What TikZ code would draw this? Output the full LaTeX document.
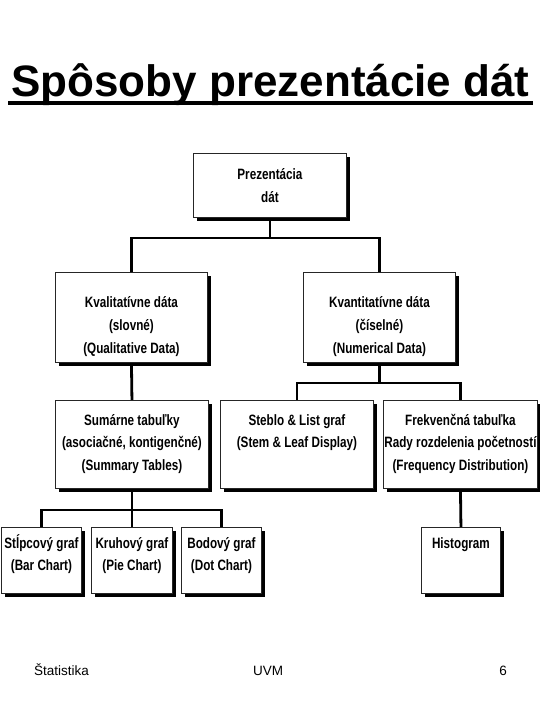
\documentclass[tikz,border=0pt]{standalone}
\usepackage{fontspec}
\setmainfont{Liberation Sans}
\newfontfamily\narfont[FakeStretch=0.78]{Liberation Sans}
\usetikzlibrary{shadows,backgrounds}
\newcommand\bxlines[1]{\begin{tabular}[t]{@{}c@{}}#1\end{tabular}}
\begin{document}
\begin{tikzpicture}[x=1pt,y=-1pt,
  bx/.style={draw=black!85, line width=0.9pt, fill=white, inner sep=0pt, anchor=north west,
    drop shadow={shadow xshift=3.4pt, shadow yshift=-3.4pt, fill=black, opacity=1}},
  tx/.style={anchor=base, inner sep=0pt, font=\narfont\bfseries\fontsize{15}{23}\selectfont},
  txb/.style={anchor=base, inner sep=0pt, font=\narfont\bfseries\fontsize{15}{22.5}\selectfont},
  txl/.style={anchor=base, inner sep=0pt, font=\narfont\bfseries\fontsize{15}{22}\selectfont},
  conn/.style={line width=2.8pt, black},
  foot/.style={anchor=base, inner sep=0pt, font=\fontsize{13.5}{16}\selectfont}]
\useasboundingbox (0,0) rectangle (540,720);

% title
\node[anchor=base, inner xsep=3pt, inner ysep=0pt, font=\bfseries\fontsize{44}{50}\selectfont] (title) at (270.5,96) {Spôsoby prezentácie dát};
\draw[line width=3.5pt] ([yshift=-7pt]title.base west) -- ([yshift=-7pt]title.base east);

% boxes
\node[bx, minimum width=153pt, minimum height=64pt] (root) at (193,153) {};
\node[bx, minimum width=152pt, minimum height=90pt] (kval) at (55,272) {};
\node[bx, minimum width=152pt, minimum height=90pt] (kvant) at (303,272) {};
\node[bx, minimum width=153pt, minimum height=88pt] (sum) at (55,400) {};
\node[bx, minimum width=153pt, minimum height=88pt] (steb) at (220,400) {};
\node[bx, minimum width=154pt, minimum height=88pt] (frek) at (383,400) {};
\node[bx, minimum width=80pt, minimum height=66pt] (stlp) at (1,527) {};
\node[bx, minimum width=81pt, minimum height=66pt] (kruh) at (91,527) {};
\node[bx, minimum width=80pt, minimum height=66pt] (bod) at (181,527) {};
\node[bx, minimum width=79pt, minimum height=66pt] (hist) at (421,527) {};

% texts
\node[tx] (rootT) at (root.north |- 0,179) {\bxlines{Prezentácia\\dát}};
\node[tx] (kvalT) at (kval.north |- 0,307) {\bxlines{Kvalitatívne dáta\\(slovné)\\(Qualitative Data)}};
\node[tx] (kvantT) at (kvant.north |- 0,307) {\bxlines{Kvantitatívne dáta\\(číselné)\\(Numerical Data)}};
\node[txb] (sumT) at (sum.north |- 0,425) {\bxlines{Sumárne tabuľky\\(asociačné, kontigenčné)\\(Summary Tables)}};
\node[txb] (stebT) at (steb.north |- 0,425) {\bxlines{Steblo \& List graf\\(Stem \& Leaf Display)}};
\node[txb] (frekT) at (frek.north |- 0,425) {\bxlines{Frekvenčná tabuľka\\Rady rozdelenia početností\\(Frequency Distribution)}};
\node[txl] (stlpT) at (stlp.north |- 0,548) {\bxlines{Stĺpcový graf\\(Bar Chart)}};
\node[txl] (kruhT) at (kruh.north |- 0,548) {\bxlines{Kruhový graf\\(Pie Chart)}};
\node[txl] (bodT) at (bod.north |- 0,548) {\bxlines{Bodový graf\\(Dot Chart)}};
\node[txl] (histT) at (hist.north |- 0,548) {\bxlines{Histogram}};

% connectors
\begin{scope}[on background layer]
\draw[conn] (root.south) -- ++(0,20) -| (kval.north);
\draw[conn] (root.south) -- ++(0,20) -| (kvant.north);
\draw[conn] (kval.south) -- (sum.north);
\draw[conn] (kvant.south) -- ++(0,20) -| (steb.north);
\draw[conn] (kvant.south) -- ++(0,20) -| (frek.north);
\draw[conn] (sum.south) -- ++(0,21) -| (stlp.north);
\draw[conn] (sum.south) -- (kruh.north);
\draw[conn] (sum.south) -- ++(0,21) -| (bod.north);
\draw[conn] (frek.south) -- (hist.north);
\end{scope}

% footer
\node[foot, anchor=base west] (f1) at (34,675) {Štatistika};
\node[foot] (f2) at (268,675) {UVM};
\node[foot] (f3) at (503,675) {6};
\end{tikzpicture}
\end{document}
